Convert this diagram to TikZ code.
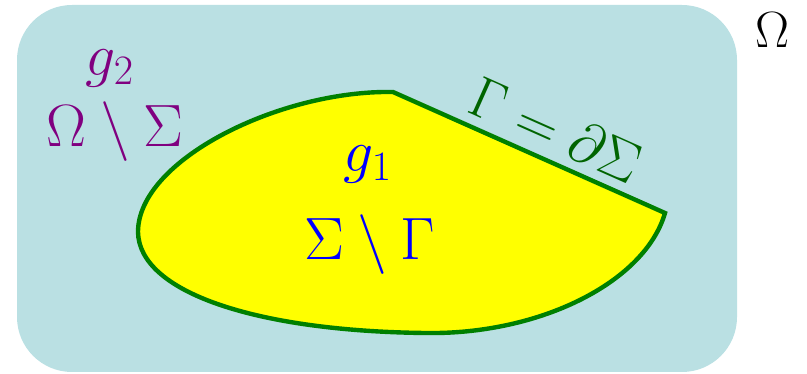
\RequirePackage{fix-cm}
\documentclass[tikz,border=0pt]{standalone}
\usepackage{xcolor}
\usepackage{tikz}
\definecolor{domainbg} {HTML}{BAE0E3}
\definecolor{sigmafill}{HTML}{FFFF00}
\definecolor{edgegreen}{HTML}{008000}
\definecolor{gammatxt} {HTML}{006400}
\definecolor{outerlbl} {HTML}{800080}
\definecolor{innerlbl} {HTML}{0000FF}

\begin{document}
\begin{tikzpicture}[
    x=0.02cm, y=-0.02cm,
    lbl/.style={inner sep=0pt, anchor=base, font=\fontsize{34}{40}\selectfont},
  ]
    \useasboundingbox (0,0) rectangle (807,374);
    % domain Omega
    \fill[domainbg, rounded corners=1.1cm] (17,5) rectangle (737,372);
    \node[lbl, font=\fontsize{29}{34}\selectfont] (omega) at (772,48) {$\Omega$};

    % region Sigma with boundary Gamma
    \filldraw[fill=sigmafill, draw=edgegreen, line width=2.5pt, line join=miter]
      (393,92) -- (665,213)
      .. controls (645,282) and (540,335) .. (425,333)
      .. controls (255,331) and (139,292) .. (138,232)
      .. controls (138,160) and (280,90) .. (393,92) -- cycle;

    \node[lbl, text=outerlbl] (gtwo)   at (110,76)  {$g_2$};
    \node[lbl, text=outerlbl] (outer)  at (115,147) {$\Omega\setminus\Sigma$};
    \node[lbl, text=innerlbl] (gone)   at (368,172) {$g_1$};
    \node[lbl, text=innerlbl] (inner)  at (370,260) {$\Sigma\setminus\Gamma$};
    \node[inner sep=0pt, text=gammatxt, rotate=-24,
          font=\fontsize{33}{40}\selectfont] (bdry) at (556,130) {$\Gamma=\partial\Sigma$};
  \end{tikzpicture}
\end{document}
